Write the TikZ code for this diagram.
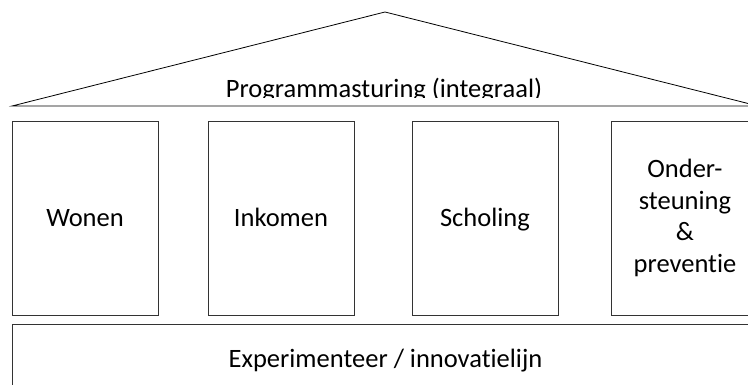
\documentclass[tikz,border=0pt]{standalone}
\usepackage{fontspec}
\setmainfont[Ligatures={NoCommon}]{Carlito}
\usetikzlibrary{positioning}
\tikzset{
  pillar/.style={draw=black!80, line width=0.8pt, minimum width=146pt, minimum height=194pt,
    inner sep=0pt, text height=17pt, text depth=0pt},
  widepillar/.style={pillar, minimum width=148pt, text height=, text depth=, align=center,
    font=\fontsize{26.5}{31.7}\selectfont},
  beam/.style={draw=black!80, line width=0.8pt, minimum width=747pt, minimum height=69pt,
    inner sep=0pt, text height=17pt, text depth=0pt},
}
\begin{document}
\begin{tikzpicture}[x=1pt, y=-1pt, font=\fontsize{26.5}{31.7}\selectfont]
    \useasboundingbox (0,0) rectangle (748,385);
    \clip (0,0) rectangle (748,385);
    % roof
    \coordinate (apex) at (385,12);
    \coordinate (roofL) at (12,106);
    \coordinate (roofR) at (758,106);
    \draw[line width=0.8pt] (roofL) -- (apex) -- (roofR) -- cycle;
    \begin{scope}
        \clip (0,0) rectangle (748,98);
        \node[anchor=base, inner sep=0pt] (roof) at (384,97.5) {Programmasturing (integraal)};
    \end{scope}
    % pillars
    \foreach \x/\name/\txt in {85/wonen/Wonen, 281/inkomen/Inkomen, 485/scholing/Scholing} {
        \node[pillar] (\name) at (\x,218) {\txt};
    }
    \node[widepillar] (onder) at (685,218) {Onder-\\steuning\\\&\\preventie};
    % foundation
    \node[beam] (base) at (385.5,358.5) {Experimenteer / innovatielijn};
\end{tikzpicture}
\end{document}
